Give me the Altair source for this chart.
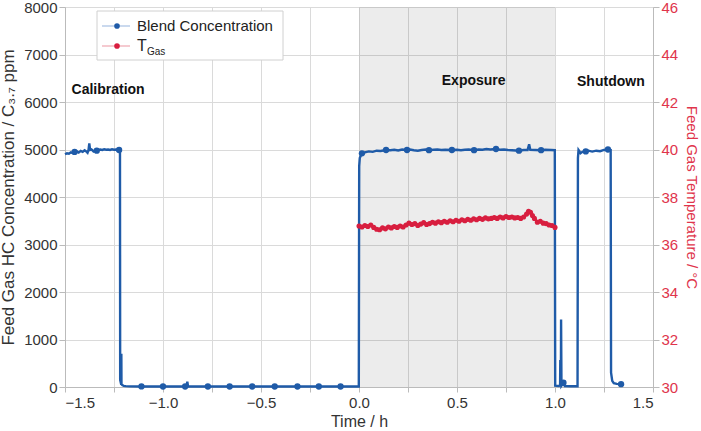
import altair as alt
import pandas as pd

# ---------------- data ----------------
blue_t = [-1.500, -1.490, -1.480, -1.470, -1.460, -1.451, -1.440, -1.430, -1.420, -1.410,
          -1.400, -1.392, -1.385, -1.380, -1.376, -1.372, -1.365, -1.355, -1.345, -1.338,
          -1.330, -1.320, -1.310, -1.300, -1.290, -1.280, -1.270, -1.260, -1.250, -1.240,
          -1.230, -1.224, -1.2195, -1.2185, -1.2130, -1.2125, -1.2118, -1.2080, -1.2000, -1.1900,
          -1.1700, -1.1100, -1.0000, -0.8870, -0.8800, -0.8760, -0.8720, -0.7710, -0.6600, -0.5450,
          -0.4300, -0.3140, -0.2050, -0.0940, -0.0010,
          0.001, 0.004, 0.010, 0.015, 0.030, 0.050, 0.070, 0.090, 0.110, 0.138,
          0.160, 0.180, 0.200, 0.220, 0.245, 0.260, 0.280, 0.300, 0.320, 0.340,
          0.357, 0.380, 0.400, 0.420, 0.440, 0.474, 0.500, 0.520, 0.540, 0.560,
          0.587, 0.610, 0.630, 0.650, 0.670, 0.699, 0.720, 0.740, 0.760, 0.780,
          0.800, 0.816, 0.840, 0.860, 0.868, 0.874, 0.900, 0.929, 0.950, 0.980,
          0.999, 1.001, 1.020, 1.026, 1.027, 1.028, 1.030, 1.031, 1.033, 1.043,
          1.050, 1.080, 1.115, 1.117, 1.120, 1.125, 1.130, 1.140, 1.157, 1.170,
          1.190, 1.210, 1.230, 1.250, 1.270, 1.284, 1.286, 1.292, 1.300, 1.315, 1.337]
blue_v = [4900, 4920, 4910, 4940, 4925, 4950, 4960, 4935, 4970, 4950,
          4985, 4960, 4930, 4990, 5130, 4990, 5000, 4960, 4990, 4975,
          4985, 5000, 4990, 5005, 4995, 5000, 4990, 5005, 4995, 5000,
          4985, 4990, 4980, 150, 50, 700, 60, 40, 25, 18,
          14, 12, 10, 10, 12, 110, 12, 10, 10, 10,
          10, 10, 10, 10, 10,
          4650, 4820, 4880, 4920, 4940, 4960, 4950, 4975, 4970, 4990,
          4985, 4995, 4980, 5000, 4990, 5000, 4985, 4975, 4990, 5000,
          4985, 4995, 5000, 4990, 4995, 4990, 4995, 4985, 4995, 5000,
          4985, 5000, 4995, 5010, 5000, 5010, 4995, 5000, 4990, 4985,
          4980, 4975, 4990, 4990, 5110, 4995, 4990, 4985, 4995, 4990,
          4985, 30, 20, 40, 570, 40, 40, 1420, 30, 90,
          20, 15, 15, 4820, 4990, 4960, 4920, 4950, 4960, 4975,
          4955, 4975, 4965, 4990, 5000, 4990, 300, 130, 80, 65, 60]

marker_t = [-1.451, -1.338, -1.224, -1.110, -1.000, -0.887, -0.771, -0.660, -0.545, -0.430,
            -0.314, -0.205, -0.094, 0.015, 0.138, 0.245, 0.357, 0.474, 0.587, 0.699,
            0.816, 0.929, 1.043, 1.157, 1.270, 1.337]
marker_v = [4950, 4975, 4990, 12, 10, 10, 10, 10, 10, 10,
            10, 10, 10, 4920, 4990, 4990, 4985, 4990, 4985, 5010,
            4975, 4985, 90, 4960, 5000, 60]

red_t = [0.000, 0.015, 0.030, 0.045, 0.060, 0.075, 0.090, 0.105, 0.120, 0.135,
         0.150, 0.165, 0.180, 0.195, 0.210, 0.225, 0.240, 0.255, 0.270, 0.285,
         0.300, 0.315, 0.330, 0.345, 0.360, 0.375, 0.390, 0.405, 0.420, 0.435,
         0.450, 0.465, 0.480, 0.495, 0.510, 0.525, 0.540, 0.555, 0.570, 0.585,
         0.600, 0.615, 0.630, 0.645, 0.660, 0.675, 0.690, 0.705, 0.720, 0.735,
         0.750, 0.765, 0.780, 0.795, 0.810, 0.825, 0.840, 0.855, 0.865, 0.875,
         0.885, 0.895, 0.910, 0.925, 0.940, 0.955, 0.970, 0.985, 1.000]
red_v = [36.78, 36.74, 36.80, 36.76, 36.82, 36.72, 36.64, 36.62, 36.70, 36.66,
         36.74, 36.70, 36.76, 36.72, 36.78, 36.74, 36.82, 36.90, 36.84, 36.88,
         36.80, 36.86, 36.92, 36.84, 36.88, 36.94, 36.90, 36.96, 36.92, 36.98,
         36.94, 37.00, 36.96, 37.02, 36.98, 37.04, 37.00, 37.06, 37.02, 37.08,
         37.04, 37.10, 37.06, 37.12, 37.08, 37.10, 37.14, 37.10, 37.16, 37.12,
         37.18, 37.14, 37.16, 37.12, 37.14, 37.10, 37.16, 37.28, 37.40, 37.36,
         37.22, 37.10, 36.94, 36.98, 36.90, 36.88, 36.82, 36.80, 36.72]

phase_labels = ["Calibration", "Exposure", "Shutdown"]
phase_t = [-1.28, 0.585, 1.285]
phase_y = [6250, 6450, 6420]

exposure_start = [0.0]
exposure_end = [1.0]

legend_labels = ["Blend Concentration", "T", "Gas"]

# ---------------- style ----------------
W, H = 588, 380
BLUE = "#1F5BA8"
RED = "#D81E3F"
RED_TXT = "#E0344B"
FONT = "Liberation Sans"
TXT = "#333333"

xscale = alt.Scale(domain=[-1.5, 1.5], nice=False, zero=False)
yscale = alt.Scale(domain=[0, 8000], nice=False)
tscale = alt.Scale(domain=[30, 46], nice=False, zero=False)

xaxis = alt.Axis(
    title="Time / h", values=[i * 0.25 - 1.5 for i in range(13)], format=".1f",
    labelExpr="datum.value % 0.5 == 0 ? datum.label : ''",
    grid=True, gridColor="#DADADA", tickSize=5, tickColor="#BBBBBB",
    domainColor="#BBBBBB", labelFontSize=15, titleFontSize=16, labelFont=FONT, titleFont=FONT,
    labelColor=TXT, titleColor=TXT, titleFontWeight="normal", labelPadding=3, titlePadding=3,
)
yaxis = alt.Axis(
    title="Feed Gas HC Concentration / C₃.₇ ppm", values=list(range(0, 8001, 500)), format="d",
    labelExpr="datum.value % 1000 == 0 ? datum.label : ''",
    grid=True, gridColor="#DADADA",
    gridOpacity={"condition": {"test": "datum.value % 1000 == 0", "value": 1}, "value": 0},
    tickSize={"condition": {"test": "datum.value % 1000 == 0", "value": 6}, "value": 3},
    tickColor="#BBBBBB", domainColor="#BBBBBB", labelFontSize=15, titleFontSize=17,
    labelFont=FONT, titleFont=FONT, labelColor=TXT, titleColor=TXT, titleFontWeight="normal",
    labelPadding=2, titlePadding=6,
)
taxis = alt.Axis(
    title="Feed Gas Temperature / °C", orient="right", values=list(range(30, 47)), format="d",
    labelExpr="datum.value % 2 == 0 ? datum.label : ''", grid=False,
    tickSize={"condition": {"test": "datum.value % 2 == 0", "value": 6}, "value": 3},
    tickColor="#BBBBBB", domainColor="#BBBBBB", labelFontSize=15, titleFontSize=15,
    labelFont=FONT, titleFont=FONT, labelColor=RED_TXT, titleColor=RED_TXT,
    titleFontWeight="normal", labelPadding=2, titlePadding=6,
)

blue_df = pd.DataFrame({"t": blue_t, "v": blue_v, "i": list(range(len(blue_t)))})
mark_df = pd.DataFrame({"t": marker_t, "v": marker_v})
red_df = pd.DataFrame({"t": red_t, "v": red_v, "i": list(range(len(red_t)))})
phase_df = pd.DataFrame({"label": phase_labels, "t": phase_t, "y": phase_y})
shade_df = pd.DataFrame({"s": exposure_start, "e": exposure_end})
one = pd.DataFrame({"a": [0]})

shade = alt.Chart(shade_df).mark_rect(color="#000000", opacity=0.075).encode(
    x=alt.X("s:Q", scale=xscale, axis=xaxis), x2="e:Q",
    y=alt.value(0), y2=alt.value(H),
)
blue_line = alt.Chart(blue_df).mark_line(color=BLUE, strokeWidth=2.4).encode(
    x=alt.X("t:Q", scale=xscale),
    y=alt.Y("v:Q", scale=yscale, axis=yaxis),
    order="i:Q",
)
blue_pts = alt.Chart(mark_df).mark_circle(color=BLUE, size=40, opacity=1).encode(
    x=alt.X("t:Q", scale=xscale), y=alt.Y("v:Q", scale=yscale),
)
phases = alt.Chart(phase_df).mark_text(font=FONT, fontSize=14, fontWeight="bold",
                                       color="#111111").encode(
    x=alt.X("t:Q", scale=xscale), y=alt.Y("y:Q", scale=yscale), text="label:N",
)

# legend (drawn in plot pixel coordinates)
leg_box = alt.Chart(one).mark_rect(fill="white", stroke="#D0D0D0", strokeWidth=1).encode(
    x=alt.value(32), x2=alt.value(218), y=alt.value(4), y2=alt.value(53))
leg_l1 = alt.Chart(one).mark_rule(color="#B9CCE8", strokeWidth=1.5).encode(
    x=alt.value(37), x2=alt.value(65), y=alt.value(19))
leg_p1 = alt.Chart(one).mark_circle(color=BLUE, size=32, opacity=1).encode(
    x=alt.value(52), y=alt.value(19))
leg_t1 = alt.Chart(pd.DataFrame({"s": [legend_labels[0]]})).mark_text(
    font=FONT, fontSize=15, color="#222222", align="left", baseline="middle").encode(
    x=alt.value(72), y=alt.value(19), text="s:N")
leg_l2 = alt.Chart(one).mark_rule(color="#F2B9C1", strokeWidth=1.5).encode(
    x=alt.value(37), x2=alt.value(65), y=alt.value(39))
leg_p2 = alt.Chart(one).mark_circle(color=RED, size=32, opacity=1).encode(
    x=alt.value(52), y=alt.value(39))
leg_t2 = alt.Chart(pd.DataFrame({"s": [legend_labels[1]]})).mark_text(
    font=FONT, fontSize=16, color="#222222", align="left", baseline="middle").encode(
    x=alt.value(72), y=alt.value(39), text="s:N")
leg_t3 = alt.Chart(pd.DataFrame({"s": [legend_labels[2]]})).mark_text(
    font=FONT, fontSize=10, color="#222222", align="left", baseline="middle").encode(
    x=alt.value(82), y=alt.value(45), text="s:N")

left = alt.layer(shade, blue_line, blue_pts, phases,
                 leg_box, leg_l1, leg_p1, leg_t1, leg_l2, leg_p2, leg_t2, leg_t3)

red_line = alt.Chart(red_df).mark_line(color=RED, strokeWidth=2.8).encode(
    x=alt.X("t:Q", scale=xscale),
    y=alt.Y("v:Q", scale=tscale, axis=taxis),
    order="i:Q",
)
red_pts = alt.Chart(red_df).mark_circle(color=RED, size=26, opacity=1).encode(
    x=alt.X("t:Q", scale=xscale), y=alt.Y("v:Q", scale=tscale),
)
right = alt.layer(red_line, red_pts)

chart = alt.layer(left, right).resolve_scale(y="independent").properties(
    width=W, height=H,
    autosize=alt.AutoSizeParams(type="none"),
    padding={"left": 65, "top": 7, "right": 48, "bottom": 44},
).configure_view(stroke=None).configure(background="white")

chart.save("out.html", embed_options={"renderer": "svg", "actions": False})
